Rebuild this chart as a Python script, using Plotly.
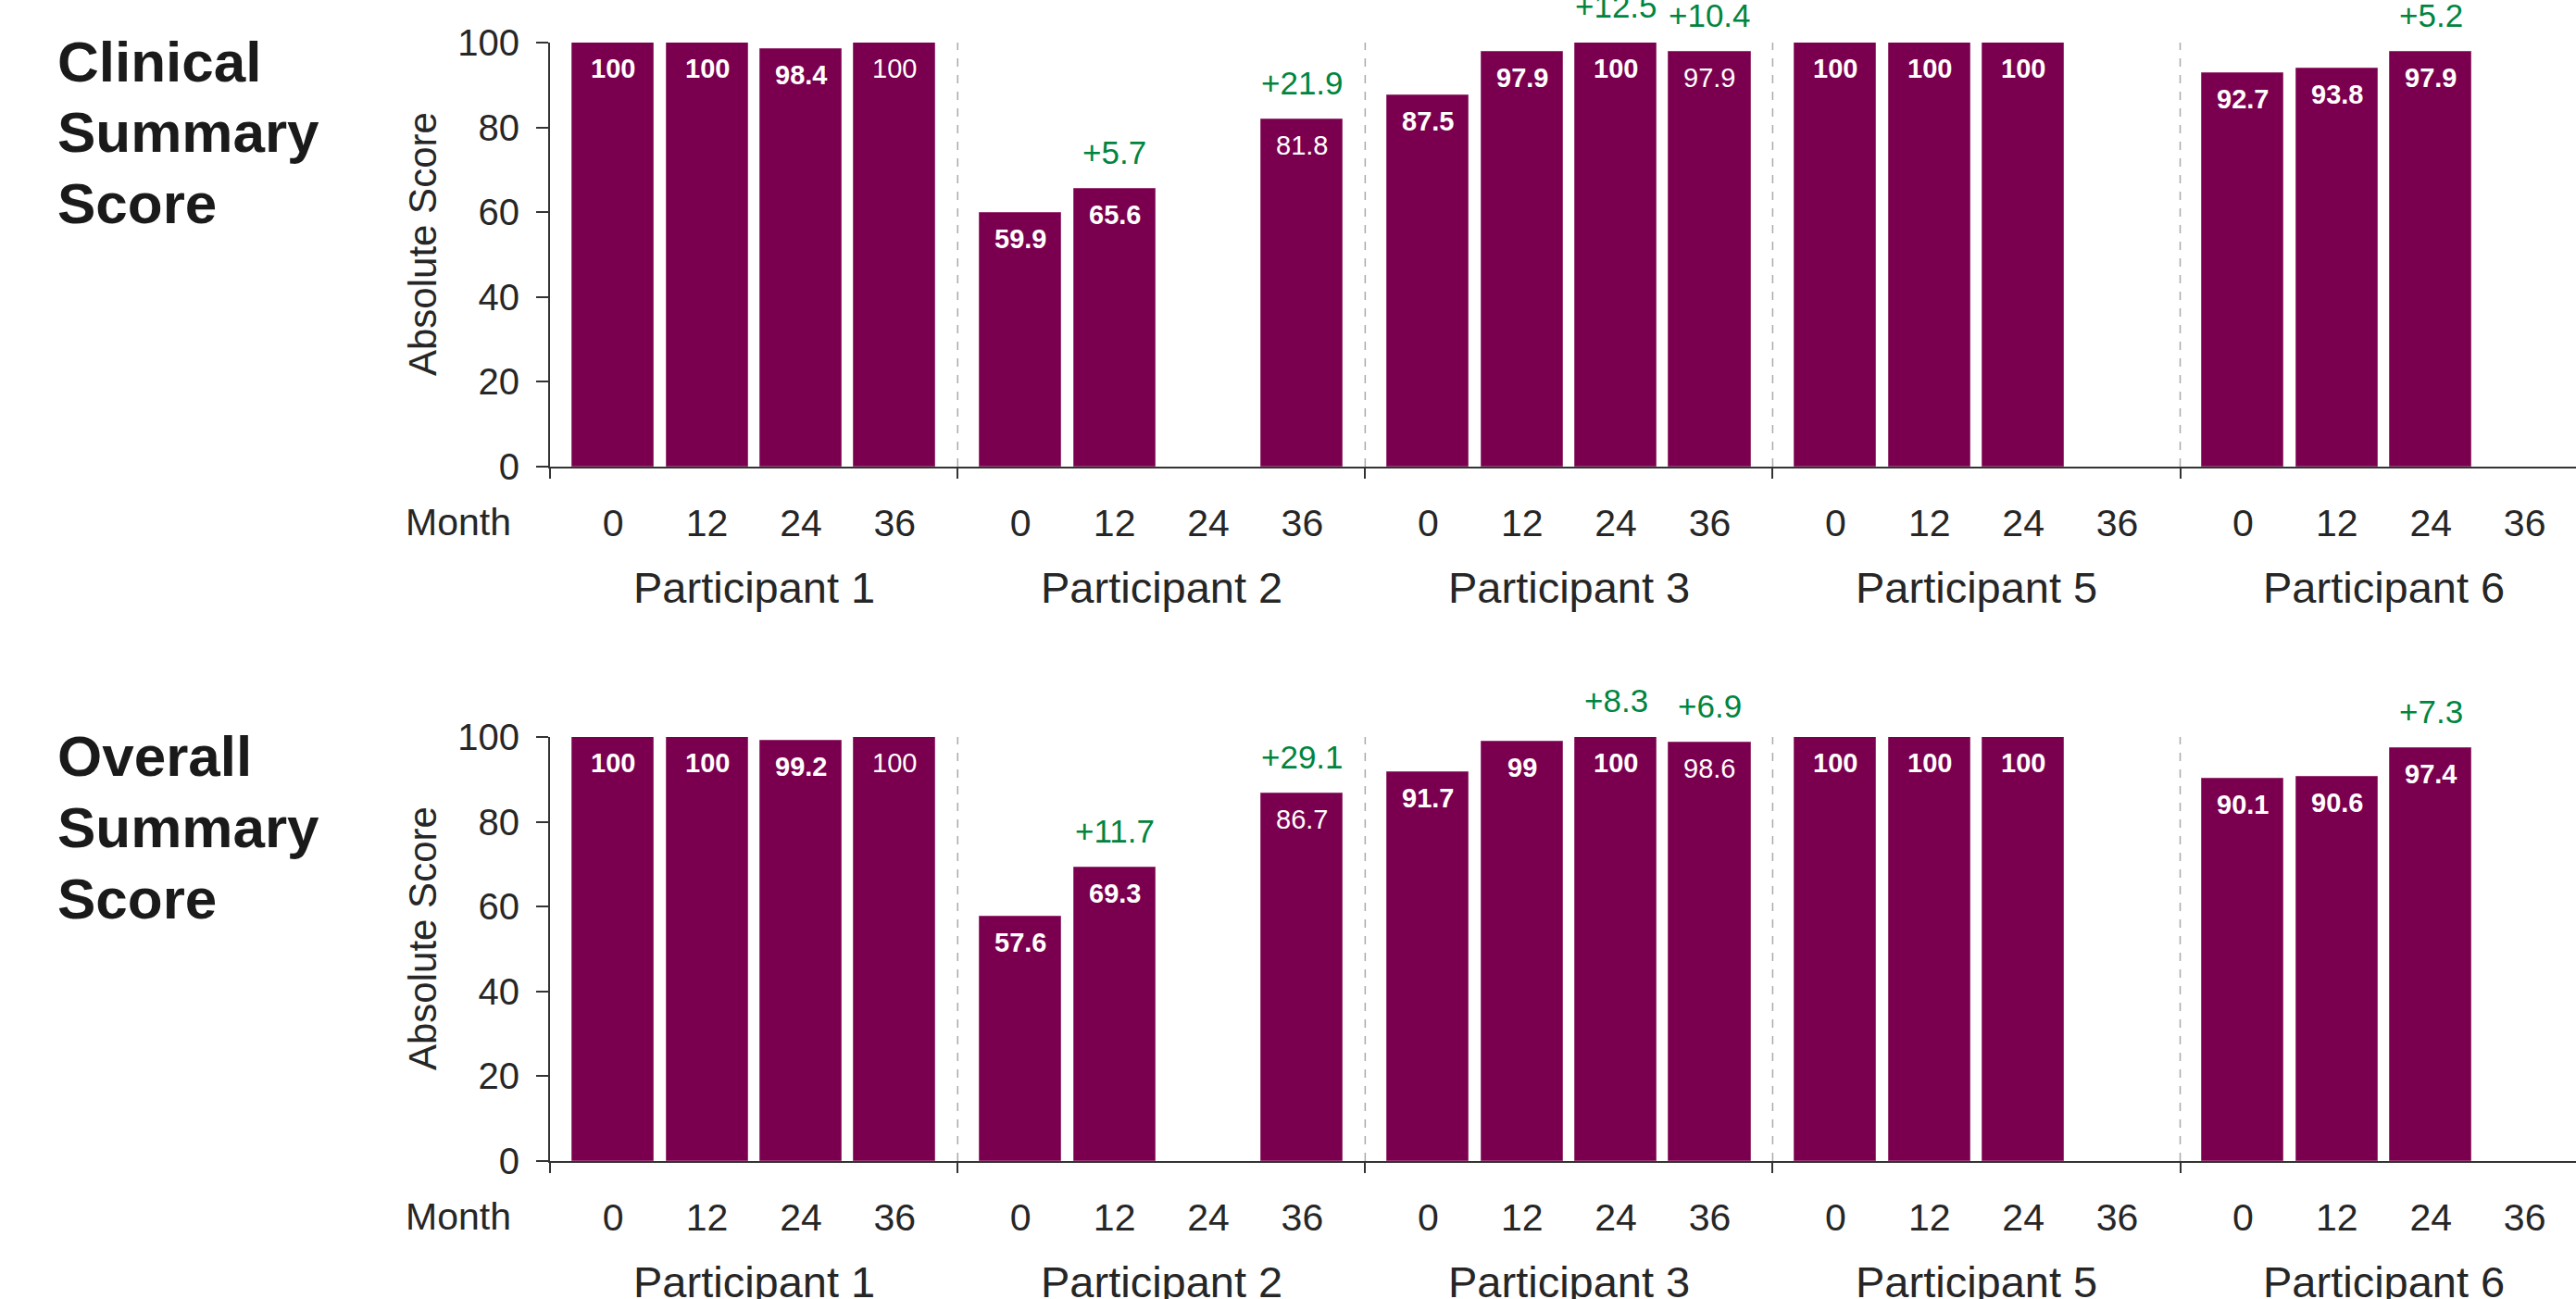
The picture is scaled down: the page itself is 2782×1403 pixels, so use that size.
import plotly.graph_objects as go

# ---------------- data ----------------
months = [0, 12, 24, 36]
participants = ["Participant 1", "Participant 2", "Participant 3", "Participant 5", "Participant 6"]

clinical_scores = [
    [100, 100, 98.4, 100],
    [59.9, 65.6, None, 81.8],
    [87.5, 97.9, 100, 97.9],
    [100, 100, 100, None],
    [92.7, 93.8, 97.9, None],
]
overall_scores = [
    [100, 100, 99.2, 100],
    [57.6, 69.3, None, 86.7],
    [91.7, 99, 100, 98.6],
    [100, 100, 100, None],
    [90.1, 90.6, 97.4, None],
]
clinical_changes = [
    [None, None, None, None],
    [None, "+5.7", None, "+21.9"],
    [None, None, "+12.5", "+10.4"],
    [None, None, None, None],
    [None, None, "+5.2", None],
]
overall_changes = [
    [None, None, None, None],
    [None, "+11.7", None, "+29.1"],
    [None, None, "+8.3", "+6.9"],
    [None, None, None, None],
    [None, None, "+7.3", None],
]
panel_titles = [["Clinical", "Summary", "Score"], ["Overall", "Summary", "Score"]]
y_tick_values = [0, 20, 40, 60, 80, 100]
y_title = "Absolute Score"
month_label = "Month"

# ---------------- styling / geometry ----------------
W, H = 2782, 1403
L = 594
GROUP = 4.34          # width of a participant group in x units
BAR_W = 0.868
PX_PER_UNIT = 101.4
X0 = -GROUP / 2 - 0.002
X1 = X0 + (W - L) / PX_PER_UNIT

BAR_COLOR = "#7A004F"
GREEN = "#00853F"
TEXT = "#262626"
AXIS = "#333333"
FONT = "Liberation Sans, Arial, sans-serif"


def px_x(px):
    return (px - L) / (W - L)


def px_y(py):
    return 1 - py / H


panels = [
    dict(scores=clinical_scores, changes=clinical_changes, title=panel_titles[0], top=46, bottom=504,
         xa="x", ya="y"),
    dict(scores=overall_scores, changes=overall_changes, title=panel_titles[1], top=796, bottom=1254,
         xa="x2", ya="y2"),
]

fig = go.Figure()
annotations = []
shapes = []

tick_positions = []
tick_texts = []
for g in range(len(participants)):
    for k, m in enumerate(months):
        tick_positions.append(g * GROUP + (k - 1.5))
        tick_texts.append(str(m))
separators = [(g - 0.5) * GROUP for g in range(len(participants) + 1)]

layout_axes = {}
for i, p in enumerate(panels):
    xs, ys = [], []
    for g, row in enumerate(p["scores"]):
        for k, v in enumerate(row):
            if v is None:
                continue
            x = g * GROUP + (k - 1.5)
            xs.append(x)
            ys.append(v)
            label = f"{v:g}"
            bold = k != 3
            annotations.append(dict(
                x=x, y=v, xref=p["xa"], yref=p["ya"], text=f"<b>{label}</b>" if bold else label,
                showarrow=False, yanchor="top", yshift=-10,
                font=dict(family=FONT, size=29, color="white")))
            ch = p["changes"][g][k]
            if ch:
                annotations.append(dict(
                    x=x, y=v, xref=p["xa"], yref=p["ya"], text=ch, showarrow=False,
                    yanchor="bottom", yshift=18, font=dict(family=FONT, size=35, color=GREEN)))
    fig.add_trace(go.Bar(x=xs, y=ys, width=BAR_W, xaxis=p["xa"], yaxis=p["ya"],
                         marker=dict(color=BAR_COLOR, line=dict(color="#9a3a75", width=1)),
                         showlegend=False, hoverinfo="y"))

    suffix = "" if i == 0 else str(i + 1)
    ydom = [px_y(p["bottom"]), px_y(p["top"])]
    layout_axes["xaxis" + suffix] = dict(
        domain=[0, 1], range=[X0, X1], anchor="y" + suffix,
        tickmode="array", tickvals=tick_positions, ticktext=tick_texts,
        ticks="", ticklabelstandoff=24, tickfont=dict(family=FONT, size=41, color=TEXT),
        showline=True, linecolor=AXIS, linewidth=2, showgrid=False, zeroline=False,
        minor=dict(tickmode="array", tickvals=separators, ticks="outside", ticklen=11,
                   tickwidth=2, tickcolor=AXIS, showgrid=False),
        automargin=False, fixedrange=True,
    )
    layout_axes["yaxis" + suffix] = dict(
        domain=ydom, range=[0, 100], anchor="x" + suffix,
        tickmode="array", tickvals=y_tick_values, ticks="outside", ticklen=13, tickwidth=2,
        tickcolor=AXIS, ticklabelstandoff=10, tickfont=dict(family=FONT, size=40, color=TEXT),
        showline=True, linecolor=AXIS, linewidth=2, showgrid=False, zeroline=False,
        automargin=False, fixedrange=True,
    )

    # dashed separators between participants
    for s in separators[1:-1]:
        shapes.append(dict(type="line", xref=p["xa"], yref=p["ya"] + " domain", x0=s, x1=s, y0=0, y1=1,
                           line=dict(color="#aaaaaa", width=1.5, dash="dash")))

    # participant labels
    for g, name in enumerate(participants):
        annotations.append(dict(x=g * GROUP, xref=p["xa"], y=px_y(p["bottom"] + 130), yref="paper",
                                text=name, showarrow=False, yanchor="middle", xanchor="center",
                                font=dict(family=FONT, size=47, color=TEXT)))
    # Month label
    annotations.append(dict(x=px_x(554), xref="paper", y=px_y(p["bottom"] + 60), yref="paper",
                            text=month_label, showarrow=False, xanchor="right", yanchor="middle",
                            font=dict(family=FONT, size=41, color=TEXT)))
    # y title
    annotations.append(dict(x=px_x(456), xref="paper", y=px_y(p["top"] + 218), yref="paper",
                            text=y_title, textangle=-90, showarrow=False, xanchor="center",
                            yanchor="middle", font=dict(family=FONT, size=42, color=TEXT)))
    # panel title, one line per annotation for tighter line spacing
    for j, line in enumerate(p["title"]):
        annotations.append(dict(x=px_x(60), xref="paper", y=px_y(p["top"] + 20 + 77 * j), yref="paper",
                                text=f"<b>{line}</b>", showarrow=False, xanchor="left",
                                yanchor="middle", font=dict(family=FONT, size=62, color="#1a1a1a")))

fig.update_layout(
    width=W, height=H,
    margin=dict(l=L, r=0, t=0, b=0, pad=0),
    paper_bgcolor="white", plot_bgcolor="white",
    bargap=0, showlegend=False,
    annotations=annotations, shapes=shapes,
    font=dict(family=FONT, color=TEXT),
    **layout_axes,
)

fig.write_html("out.html", include_plotlyjs=True, config={"displayModeBar": False})
